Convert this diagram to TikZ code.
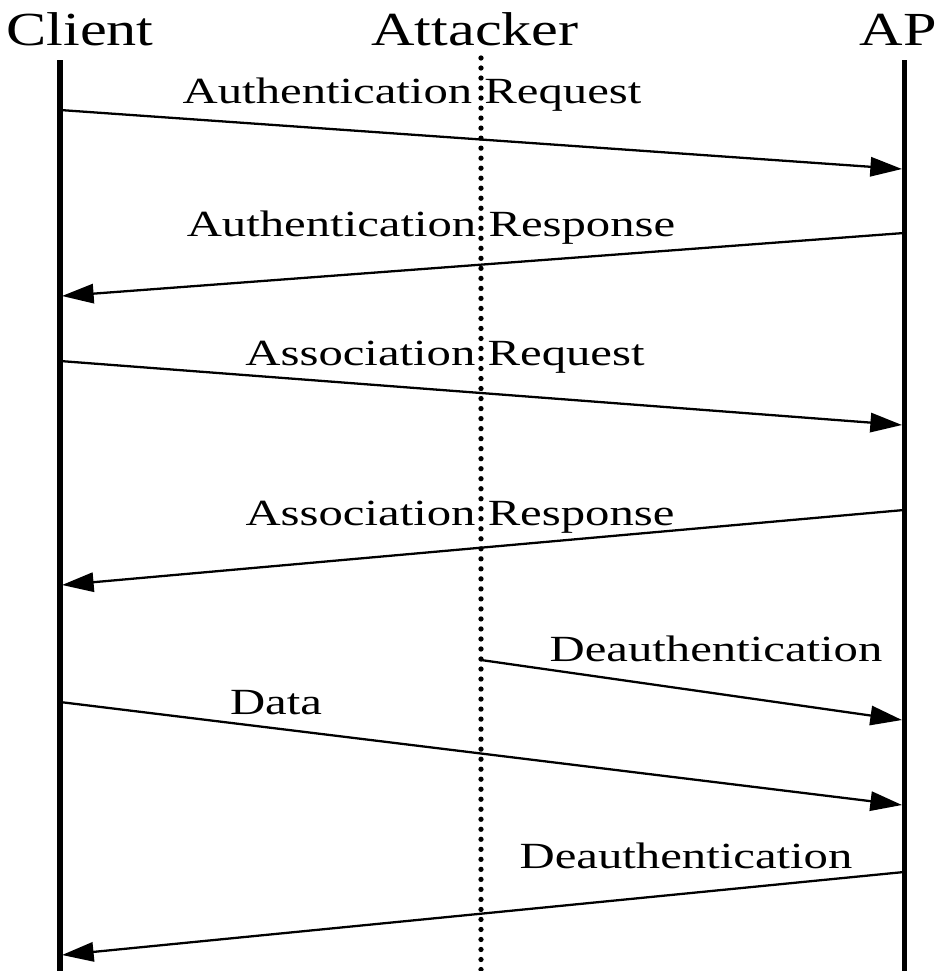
\documentclass[tikz,border=0pt]{standalone}
\usepackage{fontspec}
\setmainfont{Liberation Serif}
\usetikzlibrary{arrows.meta}

\begin{document}
\begin{tikzpicture}[
  x=0.2mm, y=-0.2mm,
  life/.style={draw=black,line width=2.85pt},
  spylife/.style={draw=black,line width=3pt,line cap=round,dash pattern=on 0pt off 5.7pt},
  msg/.style={draw=black,line width=1.3pt,-{Triangle[length=18pt,width=11pt]}},
  head/.style={anchor=base,xscale=1.27,font=\fontsize{27}{30}\selectfont},
  lbl/.style={anchor=base,xscale=1.32,font=\fontsize{21}{24}\selectfont},
]
\useasboundingbox (0,0) rectangle (939,971);

% parties
\node[head] (client) at (80,45) {Client};
\node[head] (attacker) at (475,45) {Attacker};
\node[head] (ap) at (898,45) {AP};

\coordinate (clienttop) at (60,60);
\coordinate (clientbot) at (60,971);
\coordinate (attackertop) at (481,58);
\coordinate (attackerbot) at (481,971);
\coordinate (aptop) at (904,60);
\coordinate (apbot) at (904,971);
\draw[life] (clienttop) -- (clientbot);
\draw[spylife] (attackertop) -- (attackerbot);
\draw[life] (aptop) -- (apbot);

% message ends
\coordinate (authreqS) at (60,110);   \coordinate (authreqE) at (902,169);
\coordinate (authrspS) at (904,233);  \coordinate (authrspE) at (62,296);
\coordinate (assreqS) at (60,361);    \coordinate (assreqE) at (902,425);
\coordinate (assrspS) at (904,510);   \coordinate (assrspE) at (62,585);
\coordinate (deauthaS) at (481,660);  \coordinate (deauthaE) at (902,720);
\coordinate (dataS) at (60,702);      \coordinate (dataE) at (902,805);
\coordinate (deauthbS) at (904,872);  \coordinate (deauthbE) at (62,955);

\draw[msg] (authreqS) -- (authreqE);
\draw[msg] (authrspS) -- (authrspE);
\draw[msg] (assreqS) -- (assreqE);
\draw[msg] (assrspS) -- (assrspE);
\draw[msg] (deauthaS) -- (deauthaE);
\draw[msg] (dataS) -- (dataE);
\draw[msg] (deauthbS) -- (deauthbE);

% labels
\node[lbl] (authreq) at (412,103) {Authentication Request};
\node[lbl] (authrsp) at (431,236) {Authentication Response};
\node[lbl] (assreq) at (445,365) {Association Request};
\node[lbl] (assrsp) at (460,525) {Association Response};
\node[lbl] (deautha) at (716,661) {Deauthentication};
\node[lbl] (data) at (276,714) {Data};
\node[lbl] (deauthb) at (686,868) {Deauthentication};
\end{tikzpicture}
\end{document}
